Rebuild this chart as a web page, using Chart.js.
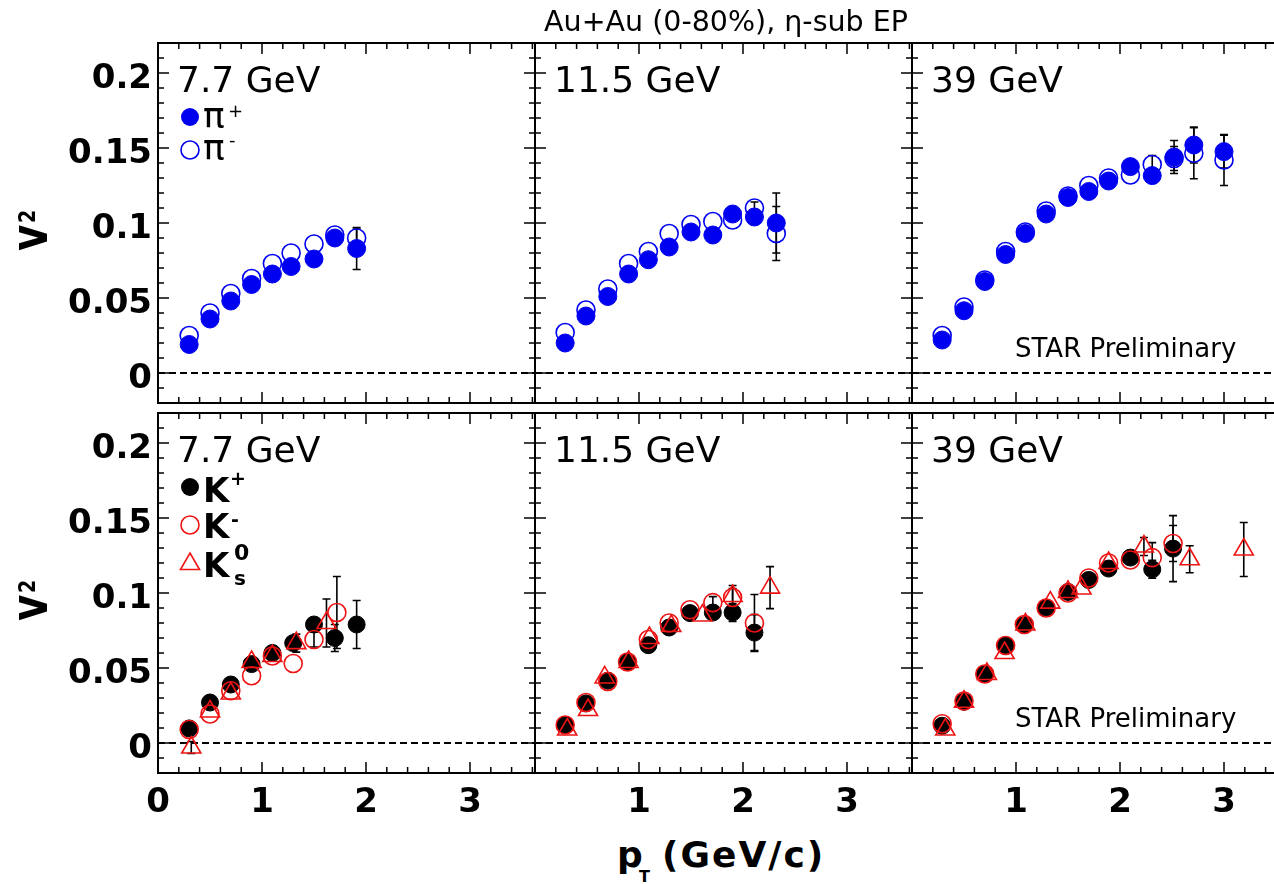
<!DOCTYPE html>
<html>
<head>
<meta charset="utf-8">
<script src="https://cdn.jsdelivr.net/npm/chart.js@4.4.0/dist/chart.umd.min.js"></script>
<style>
html, body { margin: 0; padding: 0; background: #fff; }
#stage { position: relative; width: 1274px; height: 884px; overflow: hidden; font-family: 'DejaVu Sans', sans-serif; color: #000; }
#stage canvas { position: absolute; }
.t { position: absolute; white-space: nowrap; }
</style>
</head>
<body>
<div id="stage"></div>
<script>
// ---- data ----
const energies = ['7.7 GeV', '11.5 GeV', '39 GeV'];
const xTickVals = [0, 1, 2, 3];
const xTickLabels = ['0', '1', '2', '3'];
const yTickVals = [0, 0.05, 0.1, 0.15, 0.2];
const yTickLabels = ['0', '0.05', '0.1', '0.15', '0.2'];

// pions, 7.7 GeV
const ptPi77 = [0.3, 0.5, 0.7, 0.9, 1.1, 1.28, 1.5, 1.7, 1.91];
const piPlus77 = [0.019, 0.036, 0.048, 0.059, 0.066, 0.071, 0.076, 0.090, 0.083];
const piPlusErr77 = [0, 0, 0, 0, 0, 0, 0, 0.004, 0.014];
const piMinus77 = [0.025, 0.040, 0.053, 0.063, 0.073, 0.080, 0.086, 0.092, 0.090];
const piMinusErr77 = [0, 0, 0, 0, 0, 0, 0, 0, 0.006];

// pions, 11.5 GeV
const ptPi115 = [0.29, 0.49, 0.7, 0.9, 1.09, 1.29, 1.5, 1.71, 1.9, 2.11, 2.32];
const piPlus115 = [0.020, 0.038, 0.051, 0.066, 0.0755, 0.084, 0.094, 0.092, 0.106, 0.104, 0.100];
const piPlusErr115 = [0, 0, 0, 0, 0, 0, 0, 0, 0, 0.005, 0.020];
const piMinus115 = [0.027, 0.042, 0.056, 0.073, 0.081, 0.093, 0.099, 0.101, 0.102, 0.110, 0.093];
const piMinusErr115 = [0, 0, 0, 0, 0, 0, 0, 0, 0, 0.004, 0.018];

// pions, 39 GeV
const ptPi39 = [0.29, 0.5, 0.7, 0.9, 1.09, 1.29, 1.5, 1.7, 1.89, 2.1, 2.31, 2.52, 2.71, 3.0];
const piPlus39 = [0.022, 0.0415, 0.061, 0.079, 0.093, 0.106, 0.117, 0.121, 0.128, 0.1376, 0.1316, 0.144, 0.152, 0.1476];
const piPlusErr39 = [0, 0, 0, 0, 0, 0, 0, 0, 0, 0, 0.004, 0.011, 0.012, 0.011];
const piMinus39 = [0.025, 0.044, 0.062, 0.081, 0.094, 0.108, 0.118, 0.125, 0.130, 0.132, 0.139, 0.143, 0.1465, 0.142];
const piMinusErr39 = [0, 0, 0, 0, 0, 0, 0, 0, 0, 0, 0.006, 0.008, 0.017, 0.017];

// kaons, 7.7 GeV
const ptKp77 = [0.3, 0.5, 0.7, 0.9, 1.1, 1.3, 1.5, 1.7, 1.91];
const kPlus77 = [0.0097, 0.027, 0.039, 0.0526, 0.060, 0.0666, 0.079, 0.070, 0.079];
const kPlusErr77 = [0, 0, 0, 0, 0, 0, 0, 0.009, 0.016];
const ptKm77 = [0.3, 0.5, 0.7, 0.9, 1.1, 1.3, 1.5, 1.72];
const kMinus77 = [0.009, 0.0193, 0.0348, 0.0448, 0.058, 0.053, 0.069, 0.087];
const kMinusErr77 = [0, 0, 0, 0, 0, 0, 0.005, 0.024];
const ptK0s77 = [0.32, 0.5, 0.7, 0.9, 1.1, 1.33, 1.62];
const k0s77 = [-0.003, 0.021, 0.033, 0.054, 0.058, 0.0666, 0.080];
const k0sErr77 = [0.004, 0, 0, 0, 0, 0.006, 0.016];

// kaons, 11.5 GeV
const ptK115 = [0.29, 0.49, 0.7, 0.89, 1.09, 1.29, 1.49, 1.71, 1.9, 2.11];
const kPlus115 = [0.012, 0.0264, 0.0415, 0.054, 0.0652, 0.077, 0.0866, 0.087, 0.087, 0.0736];
const kPlusErr115 = [0, 0, 0, 0, 0, 0, 0, 0, 0.006, 0.012];
const kMinus115 = [0.012, 0.027, 0.041, 0.054, 0.069, 0.080, 0.0888, 0.0936, 0.097, 0.080];
const kMinusErr115 = [0, 0, 0, 0, 0, 0, 0, 0.004, 0.006, 0.019];
const ptK0s115 = [0.31, 0.51, 0.67, 0.9, 1.1, 1.31, 1.61, 1.9, 2.26];
const k0s115 = [0.009, 0.022, 0.0437, 0.054, 0.070, 0.078, 0.085, 0.098, 0.1036];
const k0sErr115 = [0, 0, 0, 0, 0, 0, 0, 0.007, 0.014];

// kaons, 39 GeV
const ptK39 = [0.29, 0.5, 0.7, 0.9, 1.08, 1.29, 1.5, 1.7, 1.89, 2.1, 2.31, 2.51];
const kPlus39 = [0.0115, 0.0275, 0.046, 0.0652, 0.0786, 0.0903, 0.1007, 0.1087, 0.1163, 0.1236, 0.1158, 0.1296];
const kPlusErr39 = [0, 0, 0, 0, 0, 0, 0, 0, 0, 0.004, 0.006, 0.022];
const kMinus39 = [0.0128, 0.028, 0.046, 0.065, 0.079, 0.090, 0.100, 0.110, 0.120, 0.122, 0.1236, 0.133];
const kMinusErr39 = [0, 0, 0, 0, 0, 0, 0, 0, 0, 0, 0.01, 0.012];
const ptK0s39 = [0.32, 0.5, 0.72, 0.89, 1.09, 1.33, 1.5, 1.63, 1.89, 2.23, 2.67, 3.19];
const k0s39 = [0.009, 0.0275, 0.046, 0.060, 0.079, 0.0936, 0.1007, 0.103, 0.120, 0.131, 0.1225, 0.129];
const k0sErr39 = [0, 0, 0, 0, 0, 0, 0, 0, 0, 0.006, 0.009, 0.018];

// ---- layout ----
const colLeft = [158, 535, 912];
const rowTop = [43, 413];
const plotW = 377, plotH = 360;
const M = 30;
const xMax = 3.625, yMin = -0.02, yMax = 0.22;
const BLUE = '#0000f0', RED = '#ee1414', BLACK = '#000000';
const FONT = "'DejaVu Sans', sans-serif";
const stage = document.getElementById('stage');

function pts(xs, ys) { return xs.map((x, i) => ({ x: x, y: ys[i] })); }

function series(label, xs, ys, errs, style) {
  return Object.assign({ label: label, data: pts(xs, ys), errors: errs }, style);
}

const filledBlue = { pointStyle: 'circle', pointRadius: 9, backgroundColor: BLUE, borderColor: BLUE, borderWidth: 1, order: 1 };
const openBlue = { pointStyle: 'circle', pointRadius: 9, backgroundColor: 'rgba(0,0,0,0)', borderColor: BLUE, borderWidth: 1.6, order: 2 };
const filledBlack = { pointStyle: 'circle', pointRadius: 8.5, backgroundColor: BLACK, borderColor: BLACK, borderWidth: 1, order: 3 };
const openRed = { pointStyle: 'circle', pointRadius: 9, backgroundColor: 'rgba(0,0,0,0)', borderColor: RED, borderWidth: 1.6, order: 2 };
const triRed = { pointStyle: 'triangle', pointRadius: 11, backgroundColor: 'rgba(0,0,0,0)', borderColor: RED, borderWidth: 1.6, order: 1 };

// ticks on all four sides, border, zero line and error bars
const frame = {
  id: 'frame',
  beforeDatasetsDraw(chart) {
    const { ctx, chartArea: a, scales: { x, y } } = chart;
    ctx.save();
    ctx.strokeStyle = BLACK;
    ctx.lineWidth = 2;
    ctx.setLineDash([7, 4]);
    const y0 = y.getPixelForValue(0);
    ctx.beginPath();
    ctx.moveTo(a.left, y0);
    ctx.lineTo(a.right, y0);
    ctx.stroke();
    ctx.setLineDash([]);
    ctx.lineWidth = 1.6;
    chart.data.datasets.forEach(ds => {
      (ds.errors || []).forEach((e, i) => {
        if (!e) return;
        const p = ds.data[i];
        const px = x.getPixelForValue(p.x);
        const yt = y.getPixelForValue(p.y + e);
        const yb = y.getPixelForValue(p.y - e);
        ctx.beginPath();
        ctx.moveTo(px, yt); ctx.lineTo(px, yb);
        ctx.moveTo(px - 4, yt); ctx.lineTo(px + 4, yt);
        ctx.moveTo(px - 4, yb); ctx.lineTo(px + 4, yb);
        ctx.stroke();
      });
    });
    ctx.restore();
  },
  afterDatasetsDraw(chart) {
    const { ctx, chartArea: a, scales: { x, y } } = chart;
    ctx.save();
    ctx.strokeStyle = BLACK;
    ctx.lineWidth = 1.5;
    ctx.beginPath();
    for (let i = 0; i * 0.2 <= xMax; i++) {
      const px = x.getPixelForValue(i * 0.2);
      const len = i % 5 === 0 ? 11 : 6;
      ctx.moveTo(px, a.bottom); ctx.lineTo(px, a.bottom - len);
      ctx.moveTo(px, a.top); ctx.lineTo(px, a.top + len);
    }
    for (let i = -2; i <= 22; i++) {
      const py = y.getPixelForValue(i / 100);
      const len = i % 5 === 0 ? 11 : 6;
      ctx.moveTo(a.left, py); ctx.lineTo(a.left + len, py);
      ctx.moveTo(a.right, py); ctx.lineTo(a.right - len, py);
    }
    ctx.stroke();
    ctx.lineWidth = 2;
    ctx.strokeRect(a.left, a.top, a.right - a.left, a.bottom - a.top);
    ctx.restore();
  }
};

function makePanel(row, col, datasets) {
  const yAxisW = col === 0 ? colLeft[0] : 0;
  const xAxisH = row === 1 ? 60 : 0;
  const left = col === 0 ? 0 : colLeft[col] - M;
  const top = rowTop[row] - M;
  const w = (col === 0 ? colLeft[0] : M) + plotW + M;
  const h = M + plotH + (row === 1 ? xAxisH : M);
  const canvas = document.createElement('canvas');
  canvas.width = w; canvas.height = h;
  canvas.style.left = left + 'px';
  canvas.style.top = top + 'px';
  canvas.style.width = w + 'px';
  canvas.style.height = h + 'px';
  stage.appendChild(canvas);
  const tickFont = { family: FONT, size: 34, weight: 'bold' };
  return new Chart(canvas, {
    type: 'scatter',
    data: { datasets: datasets },
    options: {
      responsive: false,
      animation: false,
      devicePixelRatio: 1,
      events: [],
      layout: {
        autoPadding: false,
        padding: { left: col === 0 ? 0 : M, right: M, top: M, bottom: row === 1 ? 0 : M }
      },
      plugins: { legend: { display: false }, tooltip: { enabled: false } },
      scales: {
        x: {
          type: 'linear', min: 0, max: xMax,
          display: row === 1,
          grid: { display: false, drawTicks: false },
          border: { display: false },
          ticks: {
            font: tickFont, color: BLACK, padding: 10, maxRotation: 0, autoSkip: false,
            callback: v => xTickLabels[xTickVals.indexOf(v)]
          },
          afterBuildTicks: s => {
            const vals = col === 0 ? xTickVals : xTickVals.slice(1);
            s.ticks = vals.map(v => ({ value: v }));
          },
          afterFit: s => { s.height = xAxisH; }
        },
        y: {
          type: 'linear', min: yMin, max: yMax,
          display: col === 0,
          grid: { display: false, drawTicks: false },
          border: { display: false },
          ticks: {
            font: tickFont, color: BLACK, padding: 6, labelOffset: 6, autoSkip: false,
            callback: v => yTickLabels[yTickVals.indexOf(v)]
          },
          afterBuildTicks: s => { s.ticks = yTickVals.map(v => ({ value: v })); },
          afterFit: s => { s.width = yAxisW; }
        }
      }
    },
    plugins: [frame]
  });
}

// top row: pions
makePanel(0, 0, [
  series('π+', ptPi77, piPlus77, piPlusErr77, filledBlue),
  series('π-', ptPi77, piMinus77, piMinusErr77, openBlue)
]);
makePanel(0, 1, [
  series('π+', ptPi115, piPlus115, piPlusErr115, filledBlue),
  series('π-', ptPi115, piMinus115, piMinusErr115, openBlue)
]);
makePanel(0, 2, [
  series('π+', ptPi39, piPlus39, piPlusErr39, filledBlue),
  series('π-', ptPi39, piMinus39, piMinusErr39, openBlue)
]);

// bottom row: kaons
makePanel(1, 0, [
  series('K+', ptKp77, kPlus77, kPlusErr77, filledBlack),
  series('K-', ptKm77, kMinus77, kMinusErr77, openRed),
  series('K0s', ptK0s77, k0s77, k0sErr77, triRed)
]);
makePanel(1, 1, [
  series('K+', ptK115, kPlus115, kPlusErr115, filledBlack),
  series('K-', ptK115, kMinus115, kMinusErr115, openRed),
  series('K0s', ptK0s115, k0s115, k0sErr115, triRed)
]);
makePanel(1, 2, [
  series('K+', ptK39, kPlus39, kPlusErr39, filledBlack),
  series('K-', ptK39, kMinus39, kMinusErr39, openRed),
  series('K0s', ptK0s39, k0s39, k0sErr39, triRed)
]);

// ---- text overlays ----
// places text so that its baseline sits at y = base
function text(x, base, size, str, opts) {
  opts = opts || {};
  const d = document.createElement('div');
  d.className = 't';
  d.textContent = str;
  d.style.left = x + 'px';
  d.style.top = (base - 0.846 * size) + 'px';
  d.style.fontSize = size + 'px';
  d.style.lineHeight = size + 'px';
  if (opts.bold) d.style.fontWeight = 'bold';
  if (opts.spacing) d.style.letterSpacing = opts.spacing + 'px';
  if (opts.center) d.style.transform = 'translateX(-50%)';
  if (opts.rotate) {
    d.style.transformOrigin = '0px ' + (0.846 * size) + 'px';
    d.style.transform = 'rotate(-90deg) scaleY(' + opts.rotate + ')';
  }
  stage.appendChild(d);
  return d;
}

const NS = 'http://www.w3.org/2000/svg';
function marker(cx, cy, kind, color) {
  const s = 26, c = s / 2;
  const svg = document.createElementNS(NS, 'svg');
  svg.setAttribute('width', s);
  svg.setAttribute('height', s);
  svg.style.position = 'absolute';
  svg.style.left = (cx - c) + 'px';
  svg.style.top = (cy - c) + 'px';
  let el;
  if (kind === 'triangle') {
    el = document.createElementNS(NS, 'polygon');
    const r = 11;
    el.setAttribute('points', [c, c - r, c + r * 0.866, c + r / 2, c - r * 0.866, c + r / 2].join(' '));
  } else {
    el = document.createElementNS(NS, 'circle');
    el.setAttribute('cx', c); el.setAttribute('cy', c); el.setAttribute('r', 9);
  }
  if (kind === 'filled') {
    el.setAttribute('fill', color);
  } else {
    el.setAttribute('fill', 'none');
    el.setAttribute('stroke', color);
    el.setAttribute('stroke-width', 1.6);
  }
  svg.appendChild(el);
  stage.appendChild(svg);
}

text(726, 32, 28.5, 'Au+Au (0-80%), η-sub EP', { center: true });

for (let r = 0; r < 2; r++) {
  for (let c = 0; c < 3; c++) {
    text(colLeft[c] + 19, rowTop[r] + 49, 36, energies[c]);
  }
  text(1015, rowTop[r] + 314, 26, 'STAR Preliminary');
  // y-axis title v_2
  text(47, rowTop[r] + 208, 40, 'v', { bold: true, rotate: 1.3 });
  text(35, rowTop[r] + 180, 19, '2', { bold: true, rotate: 1.2 });
}

// pion legend
marker(190, 117, 'filled', BLUE);
text(203, 128, 36, 'π');
text(228, 117, 18, '+');
marker(190, 150, 'open', BLUE);
text(203, 160, 36, 'π');
text(229, 146, 18, '-');

// kaon legend
marker(190, 487, 'filled', BLACK);
text(203, 502, 34, 'K', { bold: true });
text(230, 485, 19, '+', { bold: true });
marker(190, 525, 'open', RED);
text(203, 538, 34, 'K', { bold: true });
text(231, 526, 19, '-', { bold: true });
marker(190, 564, 'triangle', RED);
text(203, 577, 34, 'K', { bold: true });
text(234, 561, 22, '0', { bold: true });
text(234, 585, 20, 's', { bold: true });

// x-axis title p_T (GeV/c)
text(617, 867, 36, 'p', { bold: true });
text(639, 883, 16, 'T', { bold: true });
text(662, 867, 36, '(GeV/c)', { bold: true, spacing: 2 });
</script>
</body>
</html>
